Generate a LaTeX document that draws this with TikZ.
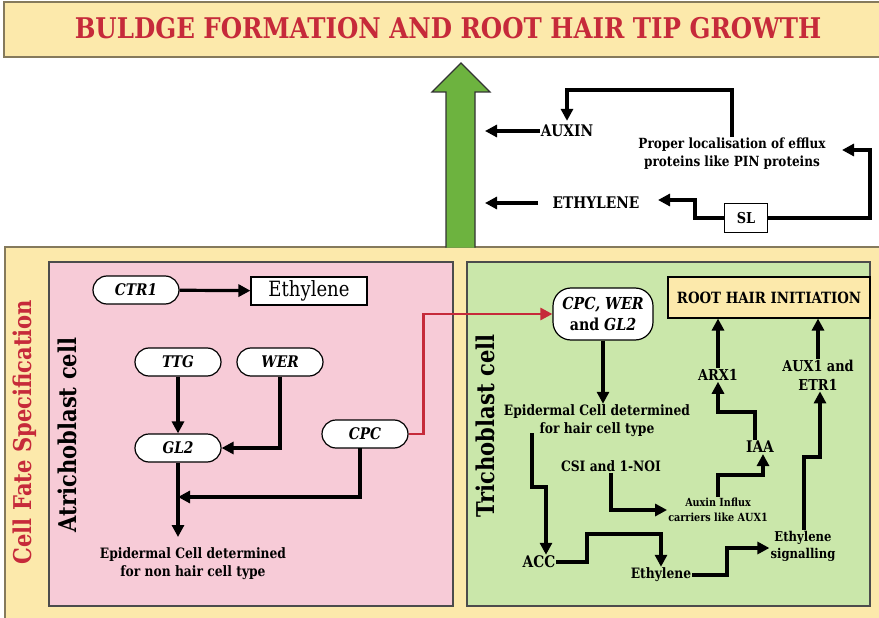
\documentclass[tikz,border=0pt]{standalone}
\usepackage{fontspec}
\setmainfont{DejaVu Serif}[FakeStretch=0.86]
\usetikzlibrary{arrows.meta}
\definecolor{topyellow}{HTML}{FCE9AB}
\definecolor{pinkbg}{HTML}{F7CBD7}
\definecolor{greenbg}{HTML}{CAE7AA}
\definecolor{redtxt}{HTML}{C62A3A}
\definecolor{garrow}{HTML}{6DB33F}
\definecolor{frame}{HTML}{857A5C}
\begin{document}
\begin{tikzpicture}[x=1pt,y=-1pt,
  ar/.style={line width=3.2pt,-{Triangle[length=12pt,width=12pt]}},
  redar/.style={line width=2.8pt,draw=redtxt,-{Triangle[length=12pt,width=12pt]}},
  pill/.style={draw,line width=1.2pt,fill=white,rounded corners=14pt,minimum width=86pt,minimum height=28pt,inner sep=0pt,font=\bfseries\itshape\fontsize{16}{18}\selectfont},
  lbl/.style={align=center,inner sep=1pt,font=\bfseries\fontsize{14.3}{18}\selectfont},
  small/.style={align=center,inner sep=1pt,font=\bfseries\fontsize{11.2}{15}\selectfont},
  vlab/.style={rotate=90,inner sep=0pt,font=\bfseries\fontsize{24.5}{26}\selectfont},
]
\useasboundingbox (0,0) rectangle (879,618);
\fill[white] (0,0) rectangle (879,618);
% frames
\draw[frame,fill=topyellow,line width=1.2pt] (4,2) rectangle (890,57);
\node[text=redtxt,font=\bfseries\fontsize{28.5}{30}\selectfont] (title) at (448,28) {BULDGE FORMATION AND ROOT HAIR TIP GROWTH};
\draw[frame,fill=topyellow,line width=1.2pt] (5,247) rectangle (890,625);
\draw[black!70,fill=pinkbg,line width=1.1pt] (49,262) rectangle (453,606);
\draw[black!70,fill=greenbg,line width=1.1pt] (467,262) rectangle (870,606);
% big green arrow
\draw[fill=garrow,draw=black!80,line width=1.1pt] (446,247.5) -- (446,92) -- (432,92) -- (461,63) -- (490,92) -- (475,92) -- (475,247.5);
% top right
\node[lbl,font=\bfseries\fontsize{16}{18}\selectfont] (auxin) at (567,131) {AUXIN};
\node[lbl,font=\bfseries\fontsize{16}{18}\selectfont] (eth1) at (596,203) {ETHYLENE};
\node[lbl,font=\bfseries\fontsize{14}{18}\selectfont] (ploc) at (732,154) {Proper localisation of efflux\\proteins like PIN proteins};
\node[draw,fill=white,line width=1.1pt,minimum width=43pt,minimum height=29pt,inner sep=0pt,font=\bfseries\fontsize{15}{17}\selectfont] (sl) at (746,218) {SL};
\coordinate (gA) at (485,131);
\coordinate (gE) at (485,203);
\coordinate (eA) at (538,203);
\coordinate (t1) at (567,90);
\coordinate (t2) at (870,150);
\coordinate (t3) at (842,150);
\coordinate (t4) at (695,200);
\coordinate (t5) at (658,200);
\draw[ar] (auxin.west) -- (gA);
\draw[ar] (eA) -- (gE);
\draw[ar] (ploc.north) |- (t1) -- ([yshift=3pt]auxin.north);
\draw[ar] (sl.east) -| (t2) -- (t3);
\draw[ar] (sl.west) -| (t4) -- (t5);
% pink box
\node[vlab,text=redtxt] (cfs) at (25,432) {Cell Fate Specification};
\node[vlab] (atri) at (67,435) {Atrichoblast cell};
\node[pill] (ctr1) at (136,290) {CTR1};
\node[draw,fill=white,line width=1.1pt,minimum width=116pt,minimum height=28pt,inner sep=0pt,font=\fontsize{21}{24}\selectfont] (ethA) at (309,291) {Ethylene};
\draw[ar] (ctr1) -- (ethA);
\node[pill] (ttg) at (178,362) {TTG};
\node[pill] (wer) at (280,362) {WER};
\node[pill] (gl2) at (178,448) {GL2};
\node[pill] (cpc) at (365,434) {CPC};
\draw[ar] (ttg) -- (gl2);
\draw[ar] (wer.south) |- (gl2.east);
\node[lbl] (epn) at (193,564) {Epidermal Cell determined\\for non hair cell type};
\coordinate (pe) at (178,537);
\coordinate (pj) at (178,497);
\coordinate (cs) at (360,448);
\draw[ar] (gl2) -- (pe);
\draw[ar] (cs) |- (pj);
% red connector
\node[draw,line width=1.2pt,fill=white,rounded corners=18pt,minimum width=100pt,minimum height=52pt,inner sep=0pt,align=center,font=\bfseries\fontsize{16.5}{21}\selectfont] (cww) at (603,314) {\textit{CPC, WER}\\and \textit{GL2}};
\draw[redar] (cpc.east) -- ++(15,0) |- (cww.west);
% green box
\node[vlab] (tri) at (485,426) {Trichoblast cell};
\node[draw,fill=topyellow,line width=1.1pt,minimum width=202pt,minimum height=41pt,inner sep=0pt,font=\bfseries\fontsize{15.5}{17}\selectfont] (rhi) at (769,297.5) {ROOT HAIR INITIATION};
\node[lbl] (eph) at (597,421) {Epidermal Cell determined\\for hair cell type};
\draw[ar] (cww.south) -- (cww.south |- eph.north);
\node[lbl,font=\bfseries\fontsize{15}{19}\selectfont] (arx1) at (718,375) {ARX1};
\node[lbl,font=\bfseries\fontsize{15}{19}\selectfont] (aux1) at (818,375) {AUX1 and\\ETR1};
\draw[ar] (arx1) -- (arx1 |- rhi.south);
\draw[ar] (aux1) -- (aux1 |- rhi.south);
\node[lbl,font=\bfseries\fontsize{16}{19}\selectfont] (iaa) at (760,447) {IAA};
\coordinate (i1) at (755,412);
\draw[ar] (iaa.north -| i1) -- (i1) -| (arx1.south);
\node[lbl] (csi) at (611,466) {CSI and 1-NOI};
\node[small] (aic) at (718,510) {Auxin Influx\\carriers like AUX1};
\draw[ar] (csi.south) |- (aic.west);
\coordinate (a1) at (763,475);
\draw[ar] (aic.north) |- (a1) -- (a1 |- iaa.south);
\node[lbl,font=\bfseries\fontsize{16}{19}\selectfont] (acc) at (539,562) {ACC};
\coordinate (e0) at (532,433);
\coordinate (e1) at (532,487);
\coordinate (e2) at (546,487);
\draw[ar] (e0) -- (e1) -- (e2) -- (e2 |- acc.north);
\node[lbl] (eth2) at (661,575) {Ethylene};
\coordinate (c1) at (587,534);
\draw[ar] (acc.east) -| (c1) -| (eth2.north);
\node[lbl,font=\bfseries\fontsize{13.5}{17}\selectfont] (es) at (803,546) {Ethylene\\signalling};
\coordinate (s1) at (727,548);
\draw[ar] (eth2.east) -| (s1) -- (es.west |- s1);
\coordinate (s2) at (804,457);
\coordinate (s3) at (820,457);
\draw[ar] (es.north -| s2) -- (s2) -- (s3) -- (s3 |- aux1.south);
\end{tikzpicture}
\end{document}
